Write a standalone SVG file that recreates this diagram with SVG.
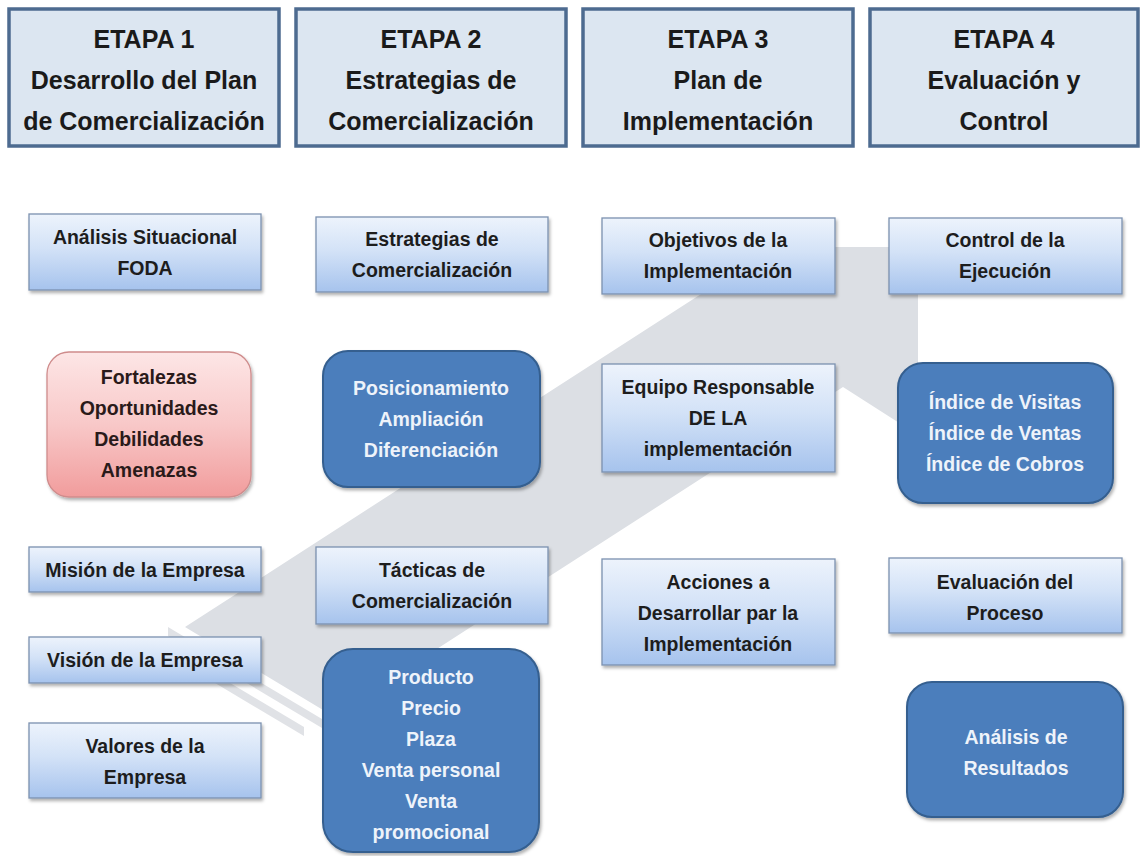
<svg xmlns="http://www.w3.org/2000/svg" width="1141" height="856" viewBox="0 0 1141 856">
  <defs>
    <linearGradient id="gBlue" x1="0" y1="0" x2="0" y2="1">
      <stop offset="0" stop-color="#edf3fc"/>
      <stop offset="0.45" stop-color="#d3e2f7"/>
      <stop offset="1" stop-color="#a6c3ed"/>
    </linearGradient>
    <linearGradient id="gPink" x1="0" y1="0" x2="0" y2="1">
      <stop offset="0" stop-color="#fde6e6"/>
      <stop offset="0.5" stop-color="#f8c8c8"/>
      <stop offset="1" stop-color="#f19c9c"/>
    </linearGradient>
    <filter id="sh" x="-10%" y="-10%" width="125%" height="135%">
      <feDropShadow dx="1.5" dy="2.5" stdDeviation="1.6" flood-color="#000" flood-opacity="0.3"/>
    </filter>
    <style>
      .hdr rect { fill: #dce6f1; stroke: #4d6b90; stroke-width: 3.5; }
      .hdr text { font-family: "Liberation Sans", Arial, sans-serif; font-size: 25px; font-weight: bold; fill: #1a1a1a; text-anchor: middle; }
      .box rect { fill: url(#gBlue); stroke: #7b91b0; stroke-width: 1.3; filter: url(#sh); }
      .lbl { font-family: "Liberation Sans", Arial, sans-serif; font-size: 19.5px; font-weight: bold; text-anchor: middle; fill: #1d1d1d; }
      .dark rect { fill: #4b7ebc; stroke: #355f8f; stroke-width: 2; filter: url(#sh); }
      .dark text { fill: #eef3fa; }
      .pink rect { fill: url(#gPink); stroke: #cf8c8c; stroke-width: 1.3; filter: url(#sh); }
      .pink text { fill: #2a1a1a; }
      .flow { fill: #dcdfe4; }
      .tail { fill: #e0e2e6; }
    </style>
  </defs>

  <rect width="1141" height="856" fill="#ffffff"/>

  <!-- large background arrow running from the lower left up to the right -->
  <g id="connectors">
    <path class="flow" d="M918,247 L774,247 L185,627 L333,716 L843,387 L918,435 Z"/>
    <path class="tail" d="M168,627 L322,719 L322,728 L168,636 Z"/>
    <path class="tail" d="M195,662 L304,727 L304,736 L195,671 Z"/>
  </g>

  <!-- stage headers -->
  <g id="etapa1" class="hdr">
    <rect x="9" y="9" width="270" height="137"/>
    <text x="144" y="48">ETAPA 1</text>
    <text x="144" y="89">Desarrollo del Plan</text>
    <text x="144" y="130">de Comercialización</text>
  </g>
  <g id="etapa2" class="hdr">
    <rect x="296" y="9" width="270" height="137"/>
    <text x="431" y="48">ETAPA 2</text>
    <text x="431" y="89">Estrategias de</text>
    <text x="431" y="130">Comercialización</text>
  </g>
  <g id="etapa3" class="hdr">
    <rect x="583" y="9" width="270" height="137"/>
    <text x="718" y="48">ETAPA 3</text>
    <text x="718" y="89">Plan de</text>
    <text x="718" y="130">Implementación</text>
  </g>
  <g id="etapa4" class="hdr">
    <rect x="870" y="9" width="268" height="137"/>
    <text x="1004" y="48">ETAPA 4</text>
    <text x="1004" y="89">Evaluación y</text>
    <text x="1004" y="130">Control</text>
  </g>

  <!-- column 1 -->
  <g id="analisis-situacional" class="box">
    <rect x="29" y="214" width="232" height="76"/>
    <text class="lbl" x="145" y="244">Análisis Situacional</text>
    <text class="lbl" x="145" y="275">FODA</text>
  </g>
  <g id="foda" class="pink">
    <rect x="47" y="352" width="204" height="145" rx="22"/>
    <text class="lbl" x="149" y="384">Fortalezas</text>
    <text class="lbl" x="149" y="415">Oportunidades</text>
    <text class="lbl" x="149" y="446">Debilidades</text>
    <text class="lbl" x="149" y="477">Amenazas</text>
  </g>
  <g id="mision" class="box">
    <rect x="29" y="547" width="232" height="45"/>
    <text class="lbl" x="145" y="577">Misión de la Empresa</text>
  </g>
  <g id="vision" class="box">
    <rect x="29" y="637" width="232" height="46"/>
    <text class="lbl" x="145" y="667">Visión de la Empresa</text>
  </g>
  <g id="valores" class="box">
    <rect x="29" y="723" width="232" height="75"/>
    <text class="lbl" x="145" y="753">Valores de la</text>
    <text class="lbl" x="145" y="784">Empresa</text>
  </g>

  <!-- column 2 -->
  <g id="estrategias" class="box">
    <rect x="316" y="217" width="232" height="75"/>
    <text class="lbl" x="432" y="246">Estrategias de</text>
    <text class="lbl" x="432" y="277">Comercialización</text>
  </g>
  <g id="posicionamiento" class="dark">
    <rect x="323" y="351" width="217" height="136" rx="25"/>
    <text class="lbl" x="431" y="395">Posicionamiento</text>
    <text class="lbl" x="431" y="426">Ampliación</text>
    <text class="lbl" x="431" y="457">Diferenciación</text>
  </g>
  <g id="tacticas" class="box">
    <rect x="316" y="547" width="232" height="77"/>
    <text class="lbl" x="432" y="577">Tácticas de</text>
    <text class="lbl" x="432" y="608">Comercialización</text>
  </g>
  <g id="mezcla" class="dark">
    <rect x="323" y="649" width="216" height="203" rx="30"/>
    <text class="lbl" x="431" y="684">Producto</text>
    <text class="lbl" x="431" y="715">Precio</text>
    <text class="lbl" x="431" y="746">Plaza</text>
    <text class="lbl" x="431" y="777">Venta personal</text>
    <text class="lbl" x="431" y="808">Venta</text>
    <text class="lbl" x="431" y="839">promocional</text>
  </g>

  <!-- column 3 -->
  <g id="objetivos" class="box">
    <rect x="602" y="218" width="233" height="76"/>
    <text class="lbl" x="718" y="247">Objetivos de la</text>
    <text class="lbl" x="718" y="278">Implementación</text>
  </g>
  <g id="equipo" class="box">
    <rect x="602" y="364" width="233" height="108"/>
    <text class="lbl" x="718" y="394">Equipo Responsable</text>
    <text class="lbl" x="718" y="425">DE LA</text>
    <text class="lbl" x="718" y="456">implementación</text>
  </g>
  <g id="acciones" class="box">
    <rect x="602" y="559" width="233" height="106"/>
    <text class="lbl" x="718" y="589">Acciones a</text>
    <text class="lbl" x="718" y="620">Desarrollar par la</text>
    <text class="lbl" x="718" y="651">Implementación</text>
  </g>

  <!-- column 4 -->
  <g id="control" class="box">
    <rect x="889" y="218" width="233" height="76"/>
    <text class="lbl" x="1005" y="247">Control de la</text>
    <text class="lbl" x="1005" y="278">Ejecución</text>
  </g>
  <g id="indices" class="dark">
    <rect x="898" y="363" width="215" height="140" rx="25"/>
    <text class="lbl" x="1005" y="409">Índice de Visitas</text>
    <text class="lbl" x="1005" y="440">Índice de Ventas</text>
    <text class="lbl" x="1005" y="471">Índice de Cobros</text>
  </g>
  <g id="evaluacion" class="box">
    <rect x="889" y="558" width="233" height="75"/>
    <text class="lbl" x="1005" y="589">Evaluación del</text>
    <text class="lbl" x="1005" y="620">Proceso</text>
  </g>
  <g id="resultados" class="dark">
    <rect x="907" y="682" width="216" height="135" rx="25"/>
    <text class="lbl" x="1016" y="744">Análisis de</text>
    <text class="lbl" x="1016" y="775">Resultados</text>
  </g>
</svg>
